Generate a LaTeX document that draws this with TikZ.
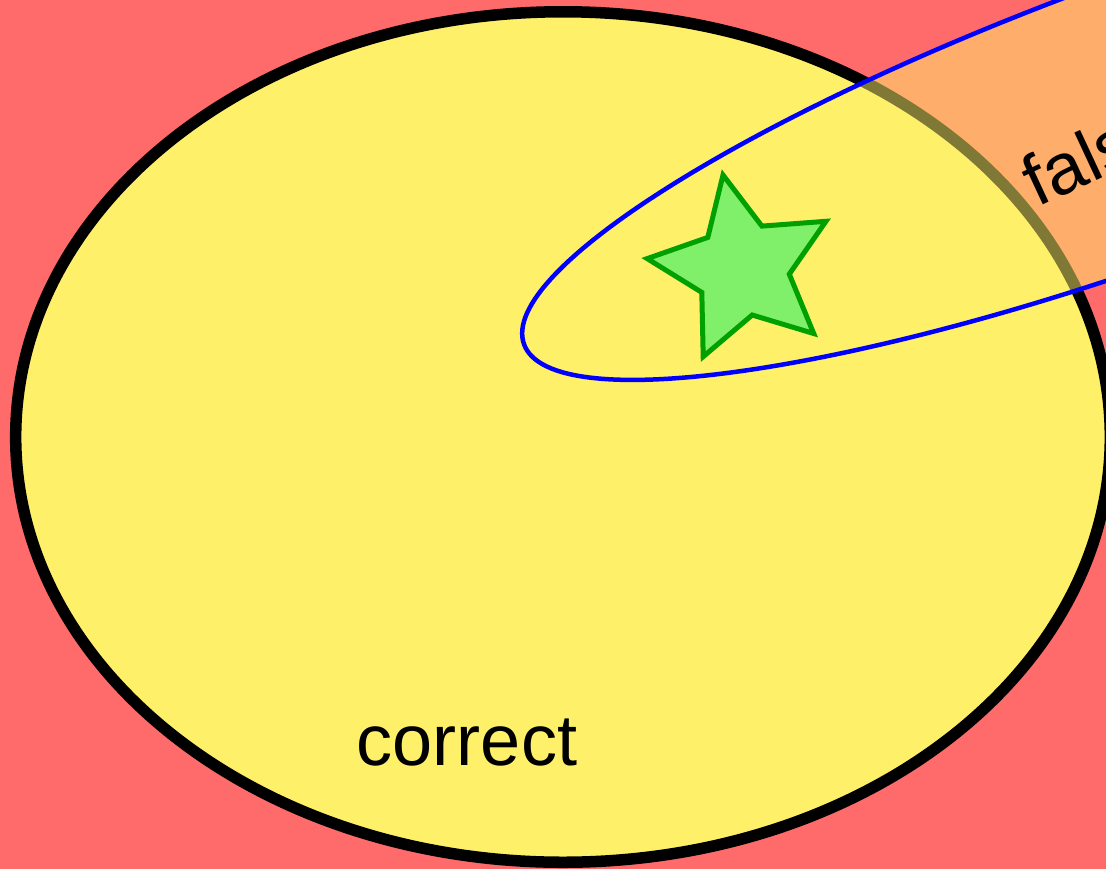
\documentclass[tikz,border=0pt]{standalone}
\usepackage{fontspec}
\setmainfont{Liberation Sans}
\definecolor{bgred}{HTML}{FF6B6B}
\definecolor{yel}{HTML}{FFF06A}
\definecolor{stargreen}{HTML}{80F06A}
\definecolor{stardark}{HTML}{00A000}
\tikzset{
  lbl/.style={inner sep=0pt, font=\fontsize{20.5}{24}\selectfont, text=black},
  bigset/.style={fill=yel, draw=black, line width=0.115cm},
  loopset/.style={fill=yel, fill opacity=0.5, draw=blue, line width=0.045cm},
  starshape/.style={fill=stargreen, draw=stardark, line width=0.05cm, line join=miter}
}
\begin{document}
\begin{tikzpicture}[x=0.01cm,y=-0.01cm]
\useasboundingbox (0,0) rectangle (1106,869);
\clip (0,0) rectangle (1106,869);
\fill[bgred] (0,0) rectangle (1106,869);
\draw[bigset] (563,437) ellipse [x radius=5.47cm, y radius=4.25cm];
\path[loopset, shift={(1154,115)}, rotate=20] (0,0) ellipse [x radius=6.7cm, y radius=1.41cm];
\draw[starshape] (723.0,175.0) -- (761.9,226.1) -- (825.9,221.3) -- (789.3,274.1) -- (813.7,333.5)
  -- (752.2,315.0) -- (703.2,356.6) -- (701.8,292.4) -- (647.2,258.6) -- (707.8,237.4) -- cycle;
\node[lbl, anchor=base] (correct) at (467,765) {correct};
\node[lbl, anchor=base west, rotate=25] (false) at (1037,208) {false};
\end{tikzpicture}
\end{document}
